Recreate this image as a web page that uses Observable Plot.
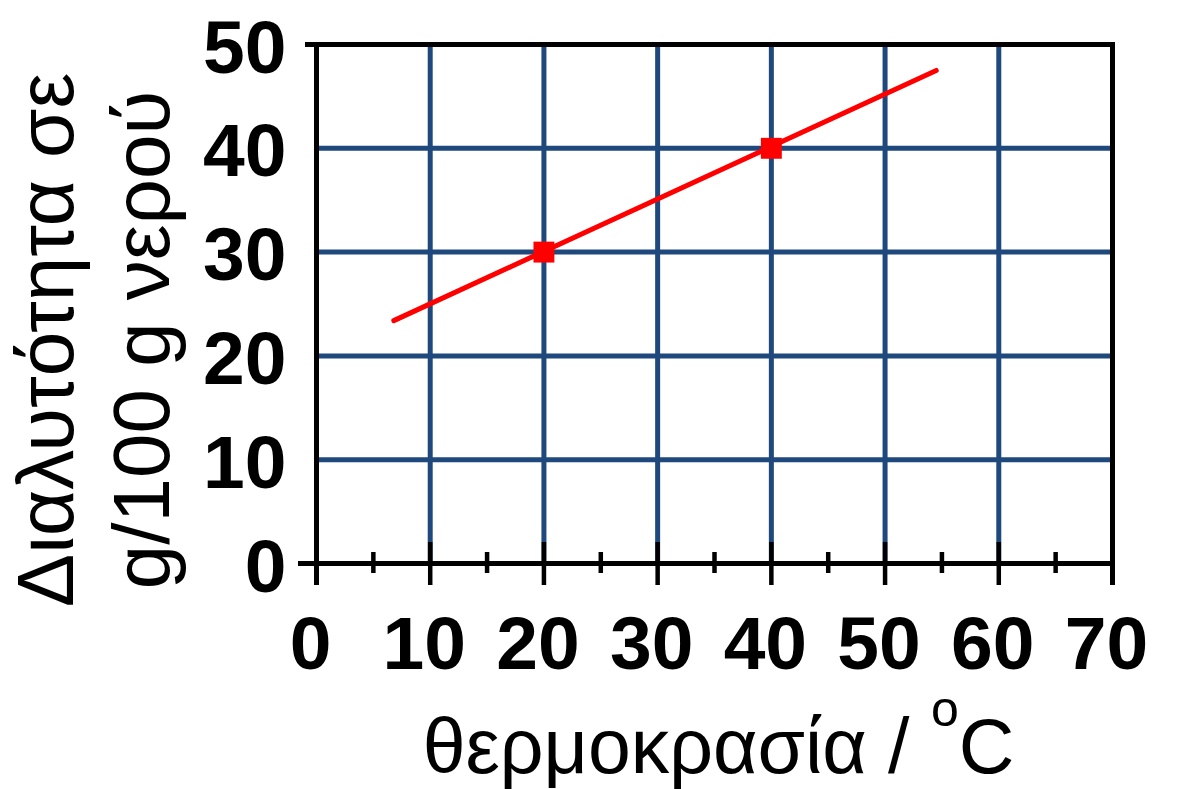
<!DOCTYPE html>
<html><head><meta charset="utf-8">
<script src="https://cdn.jsdelivr.net/npm/d3@7"></script>
<script src="https://cdn.jsdelivr.net/npm/@observablehq/plot@0.6"></script>
<style>body{margin:0;background:#fff}</style>
</head><body><div id="chart"></div>
<script>
const xTicks = [0, 10, 20, 30, 40, 50, 60, 70];
const xMinorTicks = [5, 15, 25, 35, 45, 55, 65];
const yTicks = [0, 10, 20, 30, 40, 50];
const xGrid = [10, 20, 30, 40, 50, 60];
const yGrid = [10, 20, 30, 40];
const lineTemp = [6.8, 54.5];
const lineSol = [23.4, 47.5];
const pointTemp = [20, 40];
const pointSol = [30, 40];
const xTitleMain = "θερμοκρασία / ";
const xTitleSup = "o";
const xTitleUnit = "C";
const yTitle = "Διαλυτότητα σε\ng/100 g νερού";

const blue = "#1f497d";
const font = "'Liberation Sans', Arial, sans-serif";
const lineData = lineTemp.map((t, i) => ({t, s: lineSol[i]}));
const pointData = pointTemp.map((t, i) => ({t, s: pointSol[i]}));
const xTitle = xTitleMain + xTitleSup + xTitleUnit;

const chart = Plot.plot({
  width: 1195,
  height: 789,
  marginLeft: 316,
  marginRight: 83,
  marginTop: 44,
  marginBottom: 226,
  style: {fontFamily: font, background: "white", color: "black"},
  x: {domain: [0, 70]},
  y: {domain: [0, 50]},
  marks: [
    Plot.ruleX(xGrid, {x: d => d, y1: 50, y2: 0, stroke: blue, strokeWidth: 5}),
    Plot.ruleY(yGrid, {y: d => d, x1: 0, x2: 70, stroke: blue, strokeWidth: 5}),
    Plot.ruleY([50], {y: d => d, x1: 0, x2: 70, insetLeft: -11, insetRight: -3, stroke: "black", strokeWidth: 5}),
    Plot.ruleY([0], {y: d => d, x1: 0, x2: 70, insetLeft: -18, stroke: "black", strokeWidth: 5}),
    Plot.ruleX([0, 70], {x: d => d, y1: 50, y2: 0, insetBottom: -22, stroke: "black", strokeWidth: 5}),
    Plot.ruleX(xTicks, {x: d => d, y1: 0, y2: 0, insetTop: -21, insetBottom: -22, stroke: "black", strokeWidth: 4.5}),
    Plot.ruleX(xMinorTicks, {x: d => d, y1: 0, y2: 0, insetTop: -11, insetBottom: -10, stroke: "black", strokeWidth: 4.5}),
    Plot.line(lineData, {x: "t", y: "s", stroke: "#ff0000", strokeWidth: 5}),
    Plot.dot(pointData, {x: "t", y: "s", symbol: "square", r: 11.8, fill: "#ff0000"}),
    Plot.axisX(xTicks, {tickSize: 0, tickPadding: 52, dx: -6, fontSize: 75, fontWeight: "bold", tickFormat: d => d, label: null}),
    Plot.axisY(yTicks, {tickSize: 0, tickPadding: 30, dy: 4, fontSize: 75, fontWeight: "bold", tickFormat: d => d, label: null}),
    Plot.text([xTitle], {text: d => d, frameAnchor: "bottom", lineAnchor: "top", dx: 4, dy: 155, fontSize: 77, fill: "black"}),
    Plot.text([yTitle], {text: d => d, frameAnchor: "left", rotate: -90, lineAnchor: "middle", textAnchor: "middle", lineHeight: 1.19, dx: -226, dy: 36, fontSize: 80, fill: "black"})
  ]
});

d3.select(chart).selectAll("text").filter(function() { return this.textContent === xTitle; }).each(function() {
  const t = d3.select(this);
  t.text(null);
  t.append("tspan").text(xTitleMain);
  t.append("tspan").attr("font-size", "0.65em").attr("dy", "-0.95em").text(xTitleSup);
  t.append("tspan").attr("dy", "0.62em").text(xTitleUnit);
});

document.getElementById("chart").appendChild(chart);
</script>
</body></html>
